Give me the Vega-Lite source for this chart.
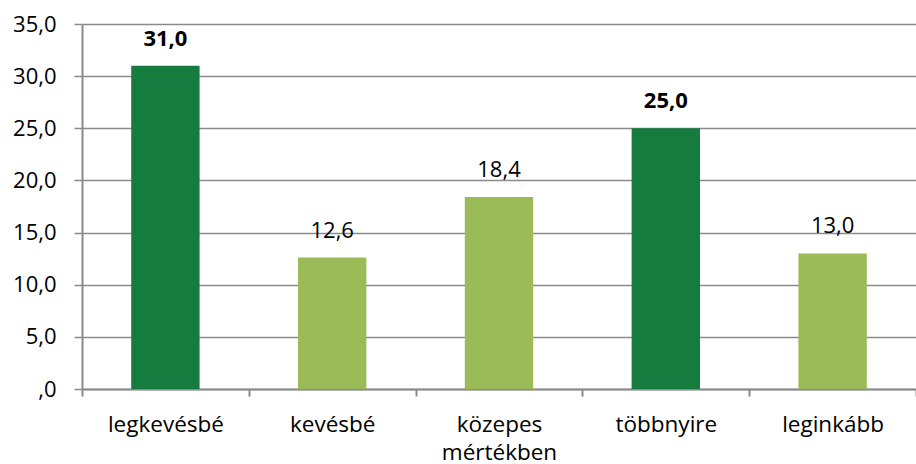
{
  "$schema": "https://vega.github.io/schema/vega-lite/v6.json",
  "width": 834,
  "height": 365,
  "autosize": "none",
  "padding": {"left": 82, "top": 24, "right": 0, "bottom": 75},
  "background": "white",
  "data": {
    "values": [
      {"kategoria": "legkevésbé", "ertek": 31.0, "csoport": "kiemelt"},
      {"kategoria": "kevésbé", "ertek": 12.6, "csoport": "normál"},
      {"kategoria": "közepes mértékben", "ertek": 18.4, "csoport": "normál"},
      {"kategoria": "többnyire", "ertek": 25.0, "csoport": "kiemelt"},
      {"kategoria": "leginkább", "ertek": 13.0, "csoport": "normál"}
    ]
  },
  "transform": [
    {"calculate": "replace(format(datum.ertek, '.1f'), '.', ',')", "as": "felirat"}
  ],
  "encoding": {
    "x": {
      "field": "kategoria",
      "type": "nominal",
      "sort": null,
      "scale": {"paddingInner": 0, "paddingOuter": 0},
      "axis": {
        "title": null,
        "labelAngle": 0,
        "tickBand": "extent",
        "tickSize": 7,
        "tickWidth": 2,
        "tickColor": "#8A8A8A",
        "domainColor": "#8A8A8A",
        "domainWidth": 2,
        "labelPadding": 17,
        "labelFont": "Open Sans",
        "labelFontSize": 22.5,
        "labelColor": "#000000",
        "labelLineHeight": 28,
        "labelExpr": "datum.label == 'közepes mértékben' ? ['közepes', 'mértékben'] : datum.label"
      }
    },
    "y": {
      "field": "ertek",
      "type": "quantitative",
      "scale": {"domain": [0, 35], "nice": false},
      "axis": {
        "title": null,
        "values": [0, 5, 10, 15, 20, 25, 30, 35],
        "grid": true,
        "gridColor": "#8A8A8A",
        "gridWidth": 1.5,
        "tickSize": 8,
        "tickWidth": 1.5,
        "tickColor": "#8A8A8A",
        "domainColor": "#8A8A8A",
        "domainWidth": 2,
        "labelPadding": 18,
        "labelFont": "Open Sans",
        "labelFontSize": 22,
        "labelColor": "#000000",
        "labelExpr": "datum.value == 0 ? ',0' : replace(format(datum.value, '.1f'), '.', ',')"
      }
    }
  },
  "layer": [
    {
      "mark": {"type": "bar", "width": {"band": 0.41}},
      "encoding": {
        "color": {
          "field": "csoport",
          "type": "nominal",
          "scale": {"domain": ["kiemelt", "normál"], "range": ["#157B3F", "#9BBB59"]},
          "legend": null
        }
      }
    },
    {
      "transform": [{"filter": "datum.csoport == 'kiemelt'"}],
      "mark": {"type": "text", "baseline": "alphabetic", "dy": -20, "font": "Open Sans", "fontSize": 22, "fontWeight": "bold", "color": "#000000"},
      "encoding": {"text": {"field": "felirat"}}
    },
    {
      "transform": [{"filter": "datum.csoport == 'normál'"}],
      "mark": {"type": "text", "baseline": "alphabetic", "dy": -20, "font": "Open Sans", "fontSize": 22, "color": "#000000"},
      "encoding": {"text": {"field": "felirat"}}
    }
  ],
  "config": {"view": {"stroke": null}}
}
